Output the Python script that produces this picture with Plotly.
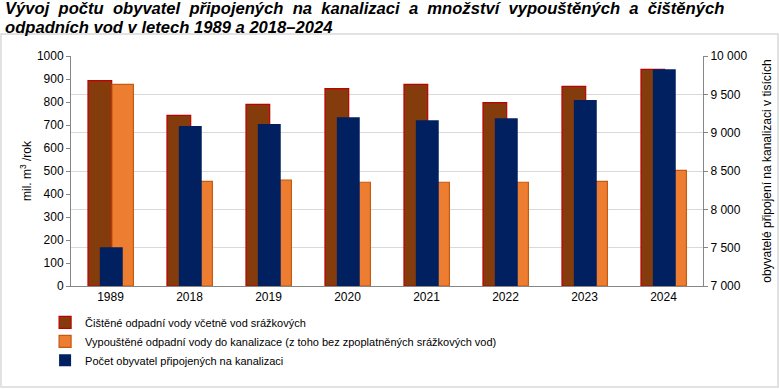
import plotly.graph_objects as go

years = ["1989", "2018", "2019", "2020", "2021", "2022", "2023", "2024"]
cistene = [893, 742, 790, 858, 877, 797, 868, 942]
vypoustene = [877, 455, 460, 451, 451, 451, 455, 503]
obyvatele = [7505, 9087, 9113, 9200, 9161, 9187, 9426, 9826]

left_ticks = list(range(0, 1001, 100))
right_vals = [7000, 7500, 8000, 8500, 9000, 9500, 10000]
right_text = ["7 000", "7 500", "8 000", "8 500", "9 000", "9 500", "10 000"]

name_c = "Čištěné odpadní vody včetně vod srážkových"
name_v = "Vypouštěné odpadní vody do kanalizace (z toho bez zpoplatněných srážkových vod)"
name_o = "Počet obyvatel připojených na kanalizaci"

title_1 = "Vývoj počtu obyvatel připojených na kanalizaci a množství vypouštěných a čištěných"
title_2 = "odpadních vod v letech 1989 a 2018–2024"

FONT = "Liberation Sans, Arial, sans-serif"

fig = go.Figure()
fig.add_trace(go.Bar(
    x=years, y=cistene, name=name_c, yaxis="y",
    marker=dict(color="#843C0C", line=dict(color="#C00000", width=1.2)),
    width=0.30, offset=-0.285,
))
fig.add_trace(go.Bar(
    x=years, y=vypoustene, name=name_v, yaxis="y",
    marker=dict(color="#ED7D31", line=dict(color="#C55A11", width=1.2)),
    width=0.27, offset=0.02,
))
fig.add_trace(go.Bar(
    x=years, y=obyvatele, name=name_o, yaxis="y2",
    marker=dict(color="#002060", line=dict(width=0)),
    width=0.29, offset=-0.135,
))

# justified first title line: widen each word gap with a non-breaking space
title_1_just = title_1.replace(" ", " \u00a0")

fig.update_layout(
    width=779, height=389,
    margin=dict(l=71, r=76, t=56, b=103, autoexpand=False),
    paper_bgcolor="white", plot_bgcolor="white",
    font=dict(family=FONT, size=12, color="#000000"),
    barmode="overlay",
    showlegend=True,
    legend=dict(
        x=-0.041, y=-0.095, xanchor="left", yanchor="top",
        orientation="v", font=dict(size=11, color="#000000"),
        bgcolor="rgba(0,0,0,0)", tracegroupgap=0, itemwidth=30,
    ),
    xaxis=dict(
        type="category", showgrid=False, showline=True, linecolor="#868686",
        linewidth=1, ticks="", tickfont=dict(size=12), zeroline=False,
    ),
    yaxis=dict(
        range=[0, 1000], tickvals=left_ticks, showgrid=False, showline=True,
        linecolor="#868686", linewidth=1, ticks="outside", ticklen=4,
        tickcolor="#868686", zeroline=False, tickfont=dict(size=12),
        title=dict(text="mil. m<sup>3</sup> /rok", font=dict(size=12), standoff=2),
    ),
    yaxis2=dict(
        overlaying="y", side="right", range=[7000, 10000],
        tickvals=right_vals, ticktext=right_text,
        showgrid=True, gridcolor="#D9D9D9", gridwidth=1,
        showline=True, linecolor="#868686", linewidth=1,
        ticks="outside", ticklen=4, tickcolor="#868686", zeroline=False,
        tickfont=dict(size=12),
        title=dict(text="obyvatelé připojení na kanalizaci v tisících",
                   font=dict(size=12), standoff=16),
    ),
    annotations=[
        dict(text="<b><i>" + title_1_just + "</i></b>",
             xref="paper", yref="paper", x=-0.108, y=1.205, xanchor="left", yanchor="middle",
             showarrow=False, font=dict(size=16.6, color="#000000")),
        dict(text="<b><i>" + title_2 + "</i></b>",
             xref="paper", yref="paper", x=-0.108, y=1.124, xanchor="left", yanchor="middle",
             showarrow=False, font=dict(size=16.6, color="#000000")),
    ],
    shapes=[
        dict(type="rect", xref="paper", yref="paper",
             x0=-0.1108, x1=1.1187, y0=-0.439, y1=1.0957,
             line=dict(color="#D9D9D9", width=1.5), fillcolor="rgba(0,0,0,0)", layer="below"),
    ],
)

fig.write_html("out.html", config={"displayModeBar": False},
               post_script="document.body.style.margin='0';")
